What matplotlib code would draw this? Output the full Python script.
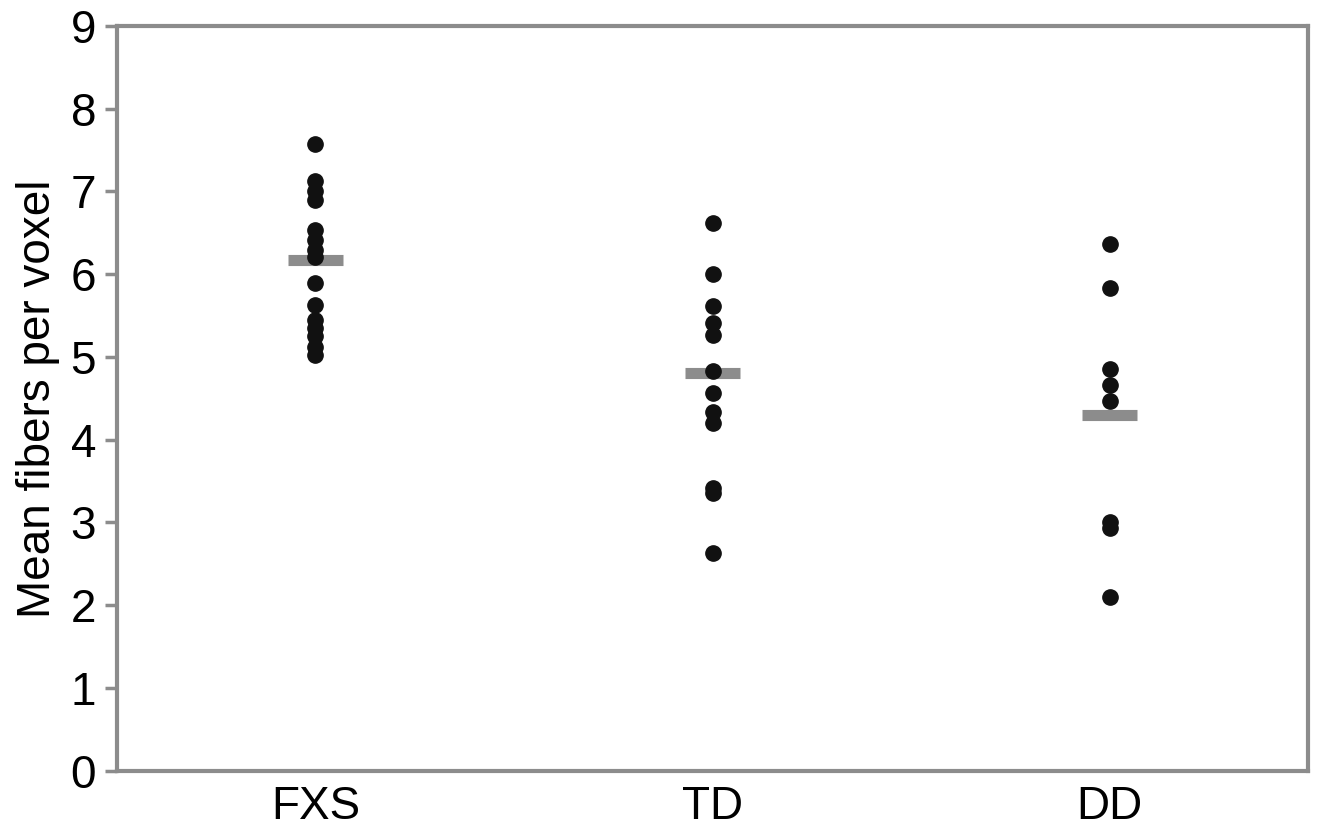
import matplotlib
matplotlib.use("Agg")
import matplotlib.pyplot as plt

plt.rcParams['font.family'] = ['Liberation Sans', 'DejaVu Sans']

groups = ["FXS", "TD", "DD"]
group_pos = [0.5, 1.5, 2.5]
fxs_values = [7.57, 7.12, 7.0, 6.9, 6.53, 6.41, 6.29, 6.21, 5.89, 5.63, 5.45, 5.35, 5.25, 5.12, 5.02]
td_values = [6.62, 6.0, 5.61, 5.41, 5.26, 4.83, 4.56, 4.34, 4.2, 3.42, 3.35, 2.63]
dd_values = [6.37, 5.83, 4.85, 4.66, 4.47, 3.0, 2.93, 2.1]
group_means = [6.17, 4.8, 4.3]
y_ticks = [0, 1, 2, 3, 4, 5, 6, 7, 8, 9]

fig = plt.figure(figsize=(13.2, 8.35), dpi=100)
ax = fig.add_axes([0.0886, 0.077, 0.9024, 0.892])

spine_color = '#8c8c8c'
for values, x in zip([fxs_values, td_values, dd_values], group_pos):
    ax.plot([x] * len(values), values, linestyle='none', marker='o',
            markersize=11, color='#111111', zorder=3)

for m, x in zip(group_means, group_pos):
    ax.hlines(m, x - 0.07, x + 0.07, colors='#8c8c8c', linewidth=8, zorder=2)

ax.set_xlim(0, 3)
ax.set_ylim(0, 9)
ax.set_yticks(y_ticks)
ax.set_yticklabels([str(t) for t in y_ticks])
ax.set_xticks(group_pos)
ax.set_xticklabels(groups)
ax.tick_params(axis='y', direction='out', length=9, width=2.5, color=spine_color,
               labelsize=33, pad=6)
ax.tick_params(axis='x', length=0, labelsize=33, pad=10)
for s in ax.spines.values():
    s.set_color(spine_color)
    s.set_linewidth(3)
ax.set_ylabel("Mean fibers per voxel", fontsize=33, labelpad=8)

fig.savefig("out.png", dpi=100)
